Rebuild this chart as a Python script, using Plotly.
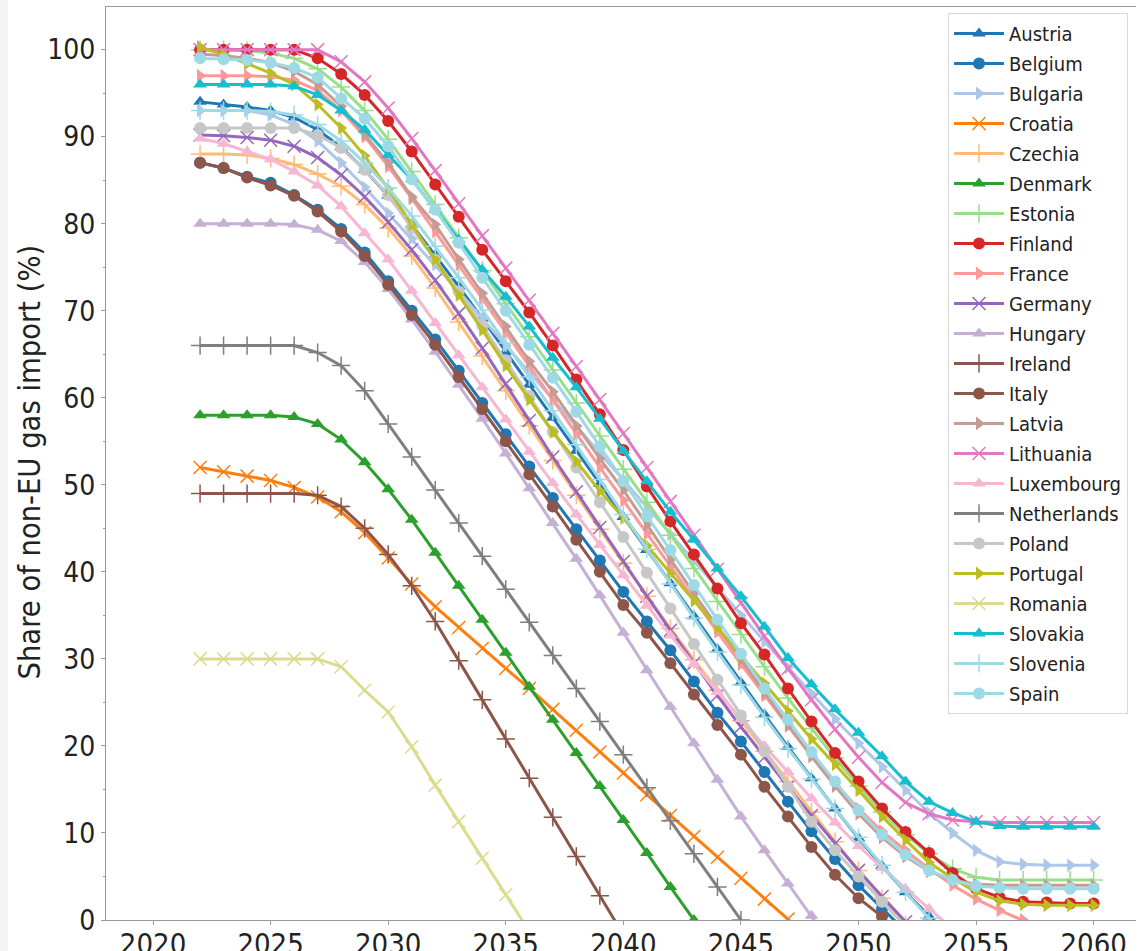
import plotly.graph_objects as go

years = list(range(2022, 2061))

countries = ["Austria", "Belgium", "Bulgaria", "Croatia", "Czechia", "Denmark", "Estonia",
             "Finland", "France", "Germany", "Hungary", "Ireland", "Italy", "Latvia",
             "Lithuania", "Luxembourg", "Netherlands", "Poland", "Portugal", "Romania",
             "Slovakia", "Slovenia", "Spain"]

N = None
austria = [94, 93.7, 93.4, 93, 92.2, 90.8, 88.8, 86.2, 83.2, 79.9, 76.4, 72.8, 69.1, 65.3, 61.5, 57.7,
           53.9, 50.1, 46.3, 42.5, 38.7, 34.9, 31.1, 27.3, 23.6, 19.9, 16.3, 12.8, 9.4, 6.2, 3.2, 0.4,
           -2.3, N, N, N, N, N, N]
belgium = [87, 86.4, 85.4, 84.7, 83.3, 81.6, 79.4, 76.7, 73.4, 70, 66.7, 63.1, 59.4, 55.8, 52.1, 48.5,
           44.9, 41.3, 37.7, 34.3, 31, 27.4, 23.8, 20.5, 17, 13.6, 10.2, 7, 4, 1.3, -1.3,
           N, N, N, N, N, N, N, N]
bulgaria = [93, 93, 93, 92.5, 91.4, 89.5, 87, 84.2, 81.2, 78.3, 75.3, 72.2, 69.1, 66, 62.9, 59.8,
            56.7, 53.6, 50.5, 47.4, 44.3, 41.2, 38.1, 35, 32, 29, 26, 23.1, 20.3, 17.6, 14.9, 12.3,
            10, 8, 6.7, 6.4, 6.3, 6.3, 6.3]
croatia = [52, 51.5, 51, 50.5, 49.7, 48.6, 46.9, 44.5, 41.6, 38.6, 36, 33.6, 31.2, 28.9, 26.6, 24.2,
           21.8, 19.3, 16.9, 14.4, 12, 9.6, 7.2, 4.8, 2.4, 0.1, -2.3,
           N, N, N, N, N, N, N, N, N, N, N, N]
czechia = [88, 88, 87.9, 87.5, 86.8, 85.7, 84.3, 82.2, 79.5, 76.3, 72.6, 68.7, 64.8, 60.8, 56.8, 52.8,
           48.8, 44.9, 41, 37.2, 33.5, 29.9, 26.4, 22.9, 19.4, 15.9, 12.4, 9, 5.7, 2.5, -0.6,
           N, N, N, N, N, N, N, N]
denmark = [58, 58, 58, 58, 57.8, 57, 55.2, 52.6, 49.5, 46, 42.2, 38.4, 34.5, 30.7, 26.8, 23,
           19.2, 15.4, 11.5, 7.7, 3.8, 0, -3.8,
           N, N, N, N, N, N, N, N, N, N, N, N, N, N, N, N]
estonia = [100, 100, 99.9, 99.6, 99, 97.8, 95.7, 93, 89.7, 86, 82.2, 78.4, 74.6, 70.8, 67, 63.2,
           59.4, 55.6, 51.8, 48, 44.2, 40.4, 36.6, 32.8, 29.1, 25.5, 22, 18.6, 15.4, 12.4, 9.8, 7.6,
           5.9, 4.9, 4.6, 4.6, 4.6, 4.6, 4.6]
finland = [100, 100, 100, 100, 100, 99, 97.2, 94.8, 91.8, 88.3, 84.5, 80.8, 77, 73.4, 69.8, 66,
           62.1, 58.1, 54, 49.8, 45.8, 42, 38.1, 34.1, 30.5, 26.6, 22.8, 19.2, 15.9, 12.8, 10.1, 7.7,
           5.4, 3.6, 2.6, 2.1, 2.0, 1.9, 1.9]
france = [97, 97, 97, 96.9, 96.5, 95.3, 93, 90, 86.6, 82.9, 79.1, 75.3, 71.4, 67.5, 63.6, 59.7,
          55.8, 52, 48.2, 44.4, 40.6, 36.8, 33.1, 29.4, 25.8, 22.3, 18.9, 15.7, 12.8, 10.2, 8, 5.9,
          4, 2.4, 1.1, 0, -1.2, N, N]
germany = [90.2, 90.1, 89.9, 89.6, 88.9, 87.6, 85.6, 83.1, 80.2, 77, 73.5, 69.7, 65.7, 61.6, 57.4, 53.2,
           49.2, 45.1, 41.2, 37.2, 33.3, 29.5, 25.8, 22.2, 18.7, 15.3, 12, 8.8, 5.7, 2.7, -0.2,
           N, N, N, N, N, N, N, N]
hungary = [80, 80, 80, 80, 79.9, 79.3, 78, 75.6, 72.5, 69, 65.3, 61.5, 57.6, 53.6, 49.6, 45.6,
           41.5, 37.3, 33, 28.7, 24.5, 20.3, 16.1, 11.9, 8, 4.2, 0.5, -3.4,
           N, N, N, N, N, N, N, N, N, N, N]
ireland = [49, 49, 49, 49, 49, 48.8, 47.5, 45, 42, 38.4, 34.3, 29.8, 25.3, 20.8, 16.3, 11.8,
           7.3, 2.8, -1.7,
           N, N, N, N, N, N, N, N, N, N, N, N, N, N, N, N, N, N, N, N]
italy = [87, 86.4, 85.3, 84.4, 83.2, 81.4, 79.1, 76.3, 73, 69.5, 66.1, 62.4, 58.7, 55, 51.2, 47.5,
         43.7, 40, 36.2, 33, 29.5, 25.9, 22.4, 19, 15.3, 11.9, 8.4, 5.2, 2.5, 0.4, -2.5,
         N, N, N, N, N, N, N, N]
latvia = [99.5, 99.3, 99, 98.5, 97.5, 96, 93.5, 90.3, 87, 83.1, 79.9, 75.9, 72, 68.2, 64.2, 60.7,
          56.8, 53, 49.4, 45.4, 41.4, 37.5, 33.7, 29.9, 26.1, 22.4, 18.8, 15.4, 12.2, 9.5, 7.3, 5.6,
          4.6, 4.1, 4.0, 4.0, 4.0, 4.0, 4.0]
lithuania = [100, 100, 100, 100, 100, 100, 98.6, 96.3, 93.3, 89.8, 86.1, 82.3, 78.6, 74.9, 71.2, 67.4,
             63.6, 59.8, 55.9, 52, 48.1, 44.2, 40.3, 36.4, 32.6, 28.9, 25.3, 21.9, 18.7, 15.8, 13.5, 12.2,
             11.5, 11.3, 11.2, 11.2, 11.2, 11.2, 11.2]
luxembourg = [89.8, 89.2, 88.3, 87.4, 86, 84.4, 82, 78.9, 75.9, 72.3, 68.6, 64.9, 61.2, 57.5, 53.8, 50.2,
              46.6, 43.1, 39.6, 36.1, 32.7, 29.4, 26.2, 23.1, 20, 17, 14, 11.2, 8.5, 6, 3.6, 1.3,
              -1, N, N, N, N, N, N]
netherlands = [66, 66, 66, 66, 66, 65.2, 63.7, 60.8, 57, 53.2, 49.4, 45.6, 41.8, 38, 34.2, 30.4,
               26.6, 22.8, 19, 15.2, 11.4, 7.6, 3.8, 0, -3.8,
               N, N, N, N, N, N, N, N, N, N, N, N, N, N]
poland = [91, 91, 91, 91, 91, 90.2, 88.7, 86.2, 83.3, 79.5, 75.9, 72.2, 68.3, 64.3, 60.2, 56.1,
          52, 48, 44, 39.9, 35.8, 31.7, 27.6, 23.5, 19.4, 15.3, 11.3, 8, 5, 2.1, -0.7,
          N, N, N, N, N, N, N, N]
portugal = [100.3, 99.4, 98.4, 97.3, 96, 93.7, 91, 87.8, 84, 79.9, 75.9, 71.8, 67.8, 63.7, 59.8, 56.1,
            52.7, 49.3, 46.2, 43, 39.8, 36.7, 33.6, 30.4, 27.2, 24, 20.8, 17.9, 14.9, 11.9, 9.2, 6.6,
            4.8, 3.2, 2.2, 1.8, 1.7, 1.7, 1.7]
romania = [30, 30, 30, 30, 30, 30, 29.1, 26.4, 23.9, 19.9, 15.5, 11.3, 7.1, 2.9, -1.3,
           N, N, N, N, N, N, N, N, N, N, N, N, N, N, N, N, N, N, N, N, N, N, N, N]
slovakia = [96, 96, 96, 96, 95.8, 94.8, 93, 90.8, 87.9, 85.1, 81.6, 78.2, 74.7, 71.6, 68.2, 64.6,
            61.2, 57.6, 53.9, 50.4, 46.9, 43.7, 40.4, 37.2, 33.7, 30.1, 27.1, 24.2, 21.5, 18.8, 15.9, 13.6,
            12.3, 11.3, 10.8, 10.7, 10.7, 10.7, 10.7]
slovenia = [93, 93, 93, 92.9, 92.5, 91.4, 89.5, 87, 84.1, 80.9, 77.4, 73.8, 70.1, 66.3, 62.4, 58.5,
            54.6, 50.6, 46.6, 42.6, 38.6, 34.7, 30.8, 27, 23.3, 19.7, 16.2, 12.8, 9.5, 6.3, 3.2, 0.2,
            -2.7, N, N, N, N, N, N]
spain = [99, 98.9, 98.8, 98.5, 97.9, 96.8, 94.4, 92.1, 88.9, 85.1, 81.6, 77.8, 73.8, 70, 66.1, 62.3,
         58.4, 54.4, 50.4, 46.4, 42.5, 38.5, 34.5, 30.6, 26.6, 23, 19.3, 15.9, 12.6, 9.8, 7.5, 5.7,
         4.6, 3.9, 3.7, 3.6, 3.6, 3.6, 3.6]

values = [austria, belgium, bulgaria, croatia, czechia, denmark, estonia, finland, france,
          germany, hungary, ireland, italy, latvia, lithuania, luxembourg, netherlands, poland,
          portugal, romania, slovakia, slovenia, spain]

colors = ["#1f77b4", "#1f77b4", "#aec7e8", "#ff7f0e", "#ffbb78", "#2ca02c", "#98df8a",
          "#d62728", "#ff9896", "#9467bd", "#c5b0d5", "#8c564b", "#8c564b", "#c49c94",
          "#e377c2", "#f7b6d2", "#7f7f7f", "#c7c7c7", "#bcbd22", "#dbdb8d", "#17becf",
          "#9edae5", "#9edae5"]
symbols = ["triangle-up", "circle", "triangle-right", "x-thin", "cross-thin",
           "triangle-up", "cross-thin", "circle", "triangle-right", "x-thin",
           "triangle-up", "cross-thin", "circle", "triangle-right", "x-thin",
           "triangle-up", "cross-thin", "circle", "triangle-right", "x-thin",
           "triangle-up", "cross-thin", "circle"]

FONT = "DejaVu Sans Condensed, DejaVu Sans, sans-serif"

fig = go.Figure()
for name, vals, col, sym in zip(countries, values, colors, symbols):
    thin = sym.endswith("-thin")
    fig.add_trace(go.Scatter(
        x=years, y=vals, name=name, legendgroup=name, mode="lines+markers",
        line=dict(color=col, width=3),
        marker=dict(symbol=sym, size=13 if thin else 12, color=col,
                    line=dict(color=col, width=1.5 if thin else 0)),
        connectgaps=False,
    ))

fig.update_layout(
    width=1138, height=951,
    margin=dict(l=106, r=2, t=7, b=31),
    paper_bgcolor="white", plot_bgcolor="white",
    font=dict(family=FONT, color="#222222"),
    showlegend=True,
    legend=dict(
        x=0.8175, y=0.9935, xanchor="left", yanchor="top",
        bgcolor="rgba(255,255,255,0.85)", bordercolor="#d8d8d8", borderwidth=1,
        font=dict(family=FONT, size=20, color="#222222"),
        itemwidth=50, tracegroupgap=1,
    ),
    xaxis=dict(
        range=[2018.0, 2061.8], tickmode="array", tickvals=[2020, 2025, 2030, 2035, 2040, 2045, 2050, 2055, 2060],
        showgrid=False, zeroline=False, showline=True, linecolor="#9a9a9a", linewidth=1.2,
        mirror=True, ticks="outside", ticklen=4, tickcolor="#9a9a9a", ticklabelstandoff=-6,
        tickfont=dict(family=FONT, size=29, color="#222222"), automargin=False,
    ),
    yaxis=dict(
        range=[0, 104.9], tickmode="array", tickvals=[0, 10, 20, 30, 40, 50, 60, 70, 80, 90, 100],
        showgrid=False, zeroline=False, showline=True, linecolor="#9a9a9a", linewidth=1.2,
        ticks="outside", ticklen=4, tickcolor="#9a9a9a",
        minor=dict(dtick=5, ticks="outside", ticklen=2, tickcolor="#9a9a9a"),
        tickfont=dict(family=FONT, size=28, color="#222222"), automargin=False,
    ),
    annotations=[dict(
        text="Share of non-EU gas import (%)", xref="paper", yref="paper",
        x=-0.074, y=0.502, xanchor="center", yanchor="middle", textangle=-90,
        showarrow=False, font=dict(family=FONT, size=30.5, color="#222222"),
    )],
    shapes=[dict(type="rect", xref="paper", yref="paper",
                 x0=-106 / 1030, x1=-98 / 1030, y0=-31 / 913, y1=1 + 7 / 913,
                 fillcolor="#f3f3f3", line=dict(width=0), layer="below")],
)

fig.write_html("out.html", config={"displayModeBar": False},
               post_script="document.body.style.margin='0';document.body.style.overflow='hidden';")
